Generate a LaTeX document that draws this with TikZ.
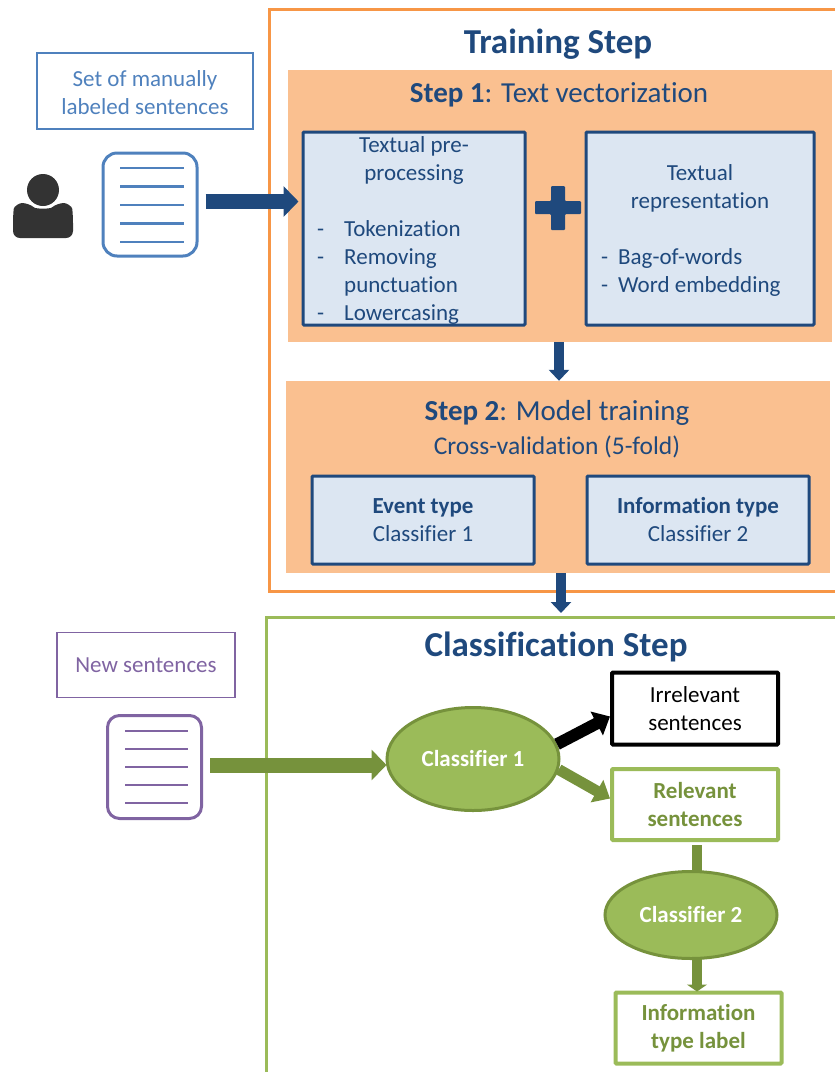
\documentclass[tikz,border=0pt]{standalone}
\usepackage{fontspec}
\setmainfont{Carlito}[Ligatures=CommonOff]
\usetikzlibrary{arrows.meta,shapes.geometric}
\definecolor{navy}{HTML}{1F497D}
\definecolor{midblue}{HTML}{4F81BD}
\definecolor{trainorange}{HTML}{F79646}
\definecolor{stepfill}{HTML}{FAC090}
\definecolor{boxfill}{HTML}{DCE6F2}
\definecolor{lightgreen}{HTML}{9BBB59}
\definecolor{darkgreen}{HTML}{76923C}
\definecolor{docpurple}{HTML}{8064A2}
\definecolor{iconblack}{HTML}{333333}
\tikzset{
  bodytext/.style={font=\fontsize{23}{28}\selectfont,align=center,inner sep=0pt},
  boldtext/.style={font=\fontsize{23}{28}\selectfont\bfseries,align=center,inner sep=0pt},
  headtext/.style={font=\fontsize{35}{38}\selectfont\bfseries,text=navy,inner sep=0pt},
  steptext/.style={font=\fontsize{29}{34}\selectfont,text=navy,inner sep=0pt},
  stepband/.style={shape=rectangle,fill=stepfill,inner sep=0pt},
  innerbox/.style={shape=rectangle,draw=navy,fill=boxfill,line width=3pt,rounded corners=1pt,bodytext,text=navy},
  resultbox/.style={shape=rectangle,line width=4pt,rounded corners=1pt,minimum width=166pt,minimum height=71pt},
  classifier/.style={shape=ellipse,draw=darkgreen,fill=lightgreen,line width=3pt,boldtext,text=white},
  docsheet/.style={shape=rectangle,rounded corners=14pt,line width=3pt,fill=white,minimum width=94pt,minimum height=103pt},
  bluearrow/.style={-{Triangle[length=15pt,width=30pt]},line width=15pt,draw=navy},
  smallarrow/.style={-{Triangle[length=11pt,width=20pt]},line width=10pt,draw=navy},
  greenarrow/.style={-{Triangle[length=15pt,width=30pt]},line width=15pt,draw=darkgreen},
}
\newcommand{\dashitem}[2]{\makebox[#1][l]{-}#2}
\begin{document}
\begin{tikzpicture}[x=1pt,y=-1pt]
    \useasboundingbox (0,0) rectangle (835,1072);
    % outer frames
    \coordinate (TL) at (269,9);
    \coordinate (TR) at (835,9);
    \coordinate (BL) at (269,591);
    \coordinate (BR) at (835,591);
    \coordinate (CL) at (266,1072);
    \coordinate (CT) at (266,617);
    \coordinate (CR) at (835,617);
    \coordinate (CA) at (561,613);
    \draw [draw=trainorange,line width=3pt] (TR) -- (TL) -- (BL) -- (BR);
    \draw [draw=lightgreen,line width=3pt] (CL) -- (CT) -- (CR);
    \node[headtext] (training) at (558,44) {Training Step};
    \node[headtext] (classification) at (556,647) {Classification Step};

    % left side
    \node[shape=rectangle,draw=midblue,line width=1.5pt,bodytext,text=midblue,minimum width=216pt,minimum height=76pt] (labeled) at (145,91) {\rule{0pt}{19pt}Set of manually\\labeled sentences};
    \node[shape=circle,fill=iconblack,minimum size=32pt,inner sep=0pt] (head) at (43,190) {};
    \fill [iconblack,rounded corners=7pt] (13,238) -- (13,216) .. controls (14,206) and (20,203) .. (29,203) .. controls (36,209) and (50,209) .. (57,203) .. controls (66,203) and (72,206) .. (73,216) -- (73,238) -- cycle;
    \node[docsheet,draw=midblue] (docblue) at (150,204.5) {};
    \foreach \y in {168,186.5,205,223.5,242}
        \draw [draw=midblue,line width=2.5pt] (120,\y) -- (184,\y);

    % step 1
    \node[stepband,minimum width=544pt,minimum height=272pt] (stepone) at (560,206) {};
    \node[steptext] (steponetitle) at (559,95) {\textbf{Step 1}: Text vectorization};
    \node[innerbox,minimum width=222pt,minimum height=193pt] (preproc) at (414,228.5) {};
    \node[bodytext,text=navy] (preproctitle) at (414,160.5) {Textual pre-\\processing};
    \node[bodytext,text=navy,align=left,anchor=north west] (preproclist) at (317,220) {\dashitem{27pt}{Tokenization}\\\dashitem{27pt}{Removing}\\\hspace{27pt}punctuation\\\dashitem{27pt}{Lowercasing}};
    \node[innerbox,minimum width=228pt,minimum height=193pt] (represent) at (700,228.5) {};
    \node[bodytext,text=navy] (representtitle) at (700,188) {Textual\\representation};
    \node[bodytext,text=navy,align=left,anchor=north west] (representlist) at (601,248) {\dashitem{17pt}{Bag-of-words}\\\dashitem{17pt}{Word embedding}};
    \fill [navy,rounded corners=1pt] (551,186) -- (565,186) -- (565,201) -- (581,201) -- (581,214) -- (565,214) -- (565,230) -- (551,230) -- (551,214) -- (535,214) -- (535,201) -- (551,201) -- cycle;

    % step 2
    \node[stepband,minimum width=544pt,minimum height=192pt] (steptwo) at (558,477) {};
    \node[steptext] (steptwotitle) at (557,413) {\textbf{Step 2}: Model training};
    \node[bodytext,text=navy,font=\fontsize{25.5}{28}\selectfont] (crossval) at (557,447) {Cross-validation (5-fold)};
    \node[innerbox,minimum width=222pt,minimum height=88pt] (eventtype) at (423,520) {\textbf{Event type}\\Classifier 1};
    \node[innerbox,minimum width=222pt,minimum height=88pt] (infotype) at (698,520) {\textbf{Information type}\\Classifier 2};

    % classification
    \node[shape=rectangle,draw=docpurple,line width=1.5pt,bodytext,text=docpurple,minimum width=178pt,minimum height=65pt] (newsent) at (146,665) {New sentences};
    \node[docsheet,draw=docpurple,rounded corners=12pt] (docpurple) at (154.5,767) {};
    \foreach \y in {731,749,767,785,803}
        \draw [draw=docpurple,line width=2.5pt] (125,\y) -- (188,\y);
    \node[classifier,minimum width=172pt,minimum height=103pt] (clfone) at (473,759) {Classifier 1};
    \node[classifier,minimum width=172pt,minimum height=87pt] (clftwo) at (691,915) {Classifier 2};
    \node[resultbox,draw=black,text=black,bodytext,minimum height=72pt] (irrelevant) at (695,708.5) {Irrelevant\\sentences};
    \node[resultbox,draw=lightgreen,text=darkgreen,boldtext] (relevant) at (695,804.5) {Relevant\\sentences};
    \node[resultbox,draw=lightgreen,text=darkgreen,boldtext] (infolabel) at (698.5,1028) {Information\\type label};

    % arrows
    \draw [bluearrow] ([xshift=7pt,yshift=3pt]docblue.east) -- ([xshift=-3pt,yshift=27pt]preproc.west);
    \draw [smallarrow] ([xshift=-1pt]stepone.south) -- ([xshift=1pt]steptwo.north);
    \draw [smallarrow] ([xshift=3pt]steptwo.south) -- (CA);
    \draw [greenarrow] ([xshift=7pt,yshift=2pt]docpurple.east) -- ([xshift=1pt,yshift=-6pt]clfone.west);
    \draw [-{Triangle[length=15pt,width=26pt]},line width=12pt,draw=black] (clfone.10) -- ([yshift=-8pt]irrelevant.west);
    \draw [-{Triangle[length=15pt,width=25pt]},line width=11pt,draw=darkgreen] (clfone.-7) -- ([yshift=6pt]relevant.west);
    \draw [line width=10pt,draw=darkgreen] ([xshift=2pt,yshift=-3pt]relevant.south) -- ([xshift=6pt,yshift=-2pt]clftwo.north);
    \draw [-{Triangle[length=7pt,width=20pt]},line width=10pt,draw=darkgreen] ([xshift=6pt,yshift=2pt]clftwo.south) -- ([xshift=-1.5pt,yshift=-1pt]infolabel.north);
\end{tikzpicture}
\end{document}
